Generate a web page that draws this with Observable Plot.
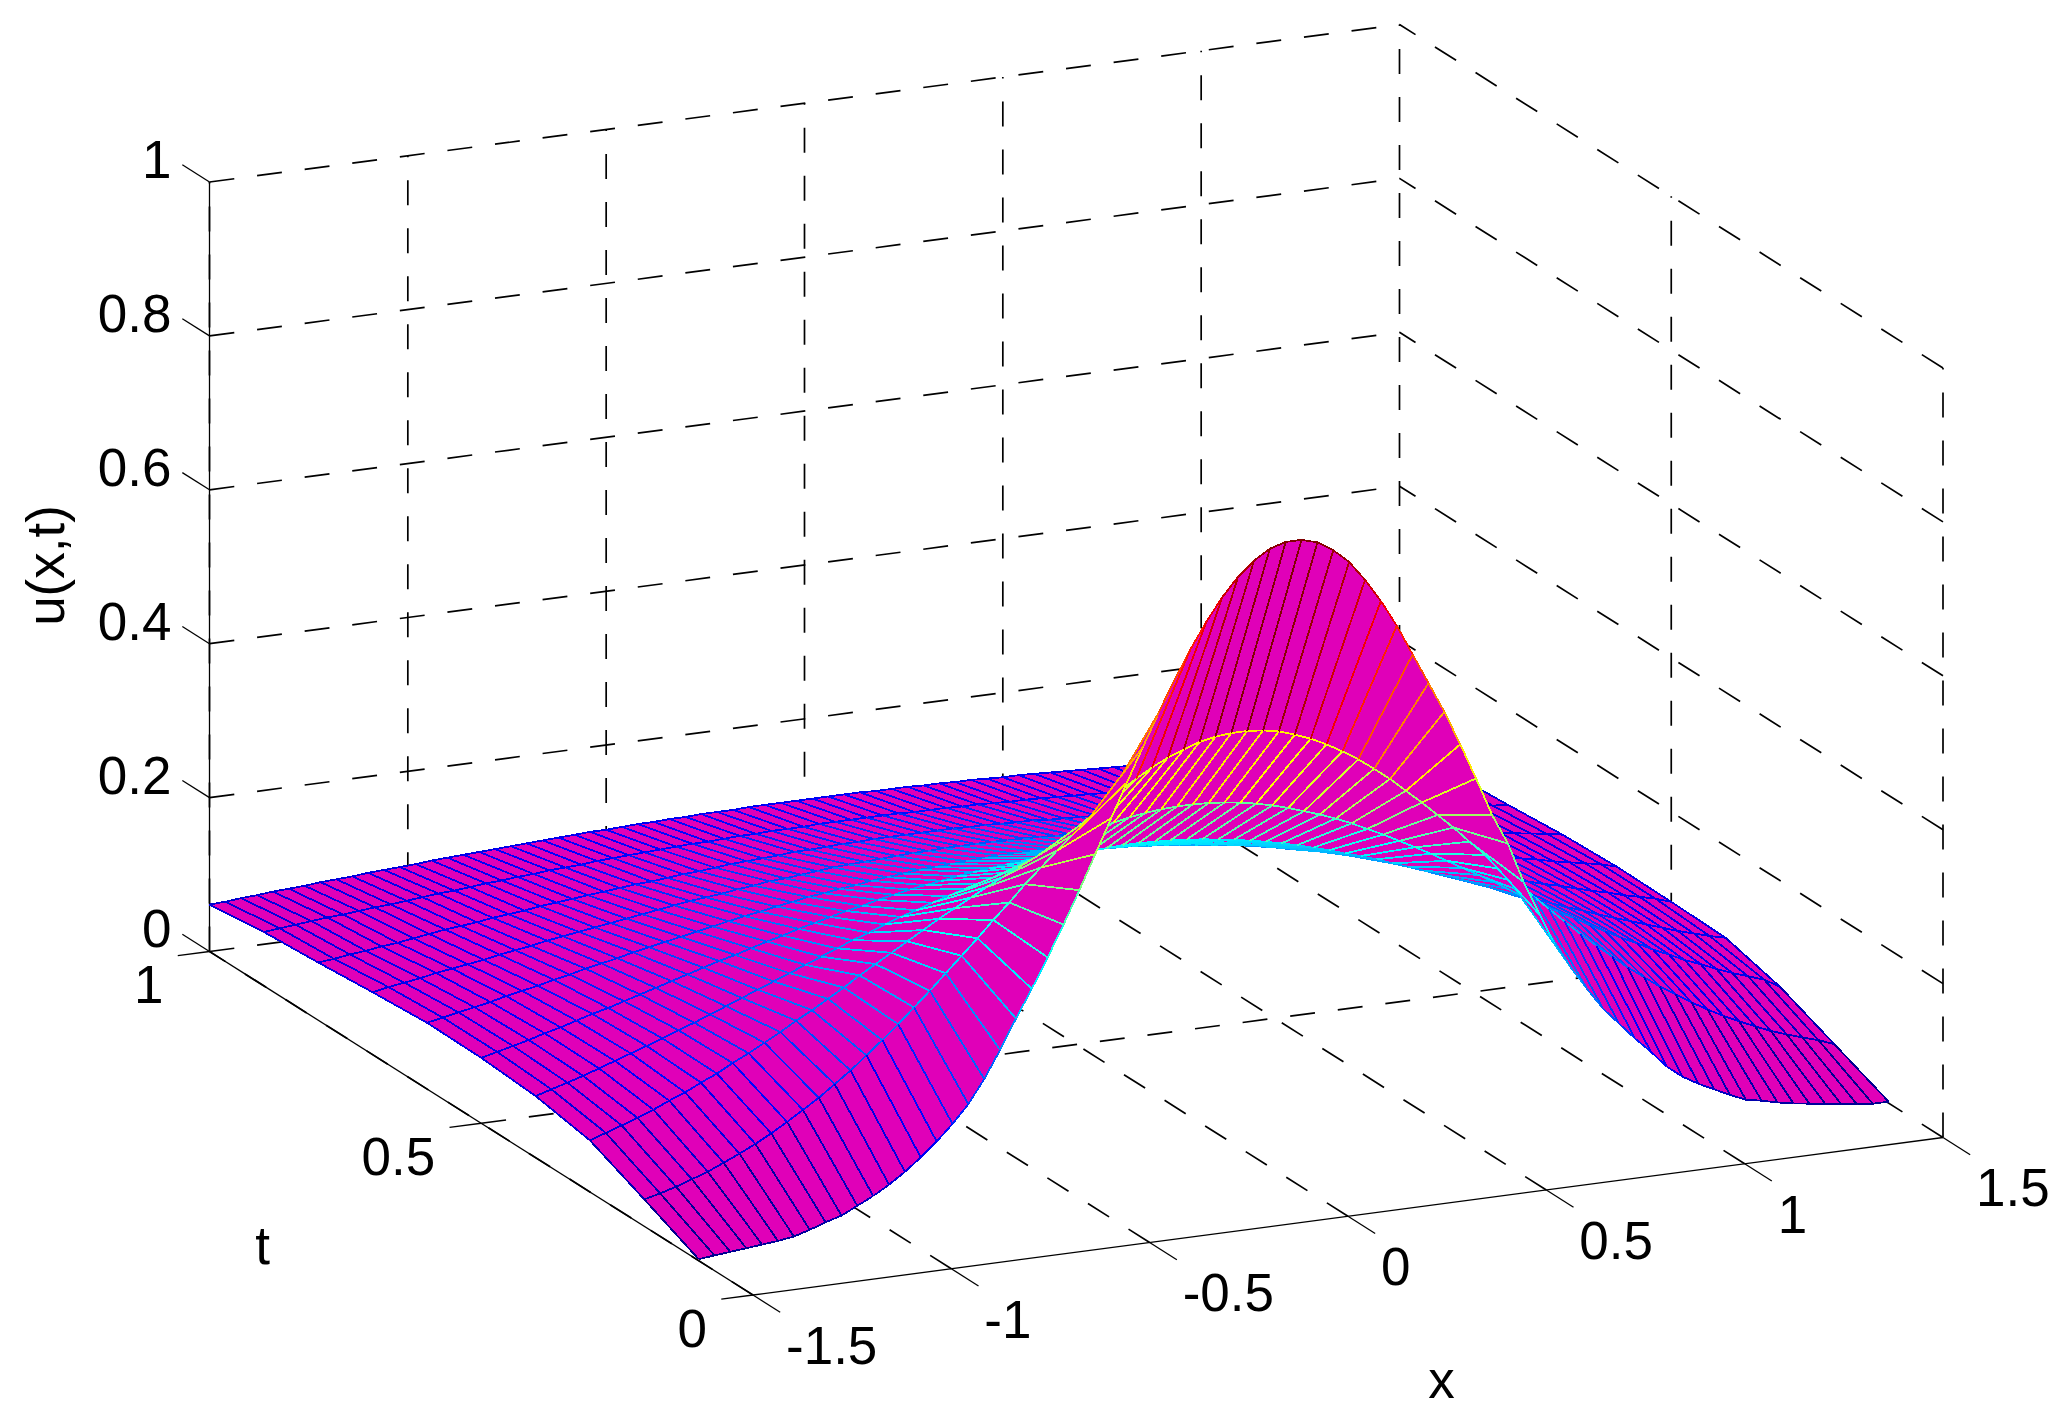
<!DOCTYPE html>
<html>
<head>
<meta charset="utf-8">
<script src="https://cdn.jsdelivr.net/npm/d3@7"></script>
<script src="https://cdn.jsdelivr.net/npm/@observablehq/plot@0.6"></script>
<style>html,body{margin:0;padding:0;background:#fff}svg{display:block}</style>
</head>
<body>
<div id="chart"></div>
<script>
const xGrid = [-1.50,-1.46,-1.42,-1.38,-1.34,-1.30,-1.26,-1.22,-1.18,-1.14,-1.10,-1.06,-1.02,-0.98,-0.94,-0.90,-0.86,-0.82,-0.78,-0.74,-0.70,-0.66,-0.62,-0.58,-0.54,-0.50,-0.46,-0.42,-0.38,-0.34,-0.30,-0.26,-0.22,-0.18,-0.14,-0.10,-0.06,-0.02,0.02,0.06,0.10,0.14,0.18,0.22,0.26,0.30,0.34,0.38,0.42,0.46,0.50,0.54,0.58,0.62,0.66,0.70,0.74,0.78,0.82,0.86,0.90,0.94,0.98,1.02,1.06,1.10,1.14,1.18,1.22,1.26,1.30,1.34,1.38,1.42,1.46,1.50];
const tGrid = [0.1,0.2,0.3,0.4,0.5,0.6,0.7,0.8,0.9,1.0];
const u01 = [.002,.004,.006,.008,.010,.012,.015,.021,.028,.034,.044,.054,.066,.080,.096,.114,.134,.157,.187,.222,.260,.296,.334,.374,.416,.460,.504,.548,.591,.633,.673,.710,.743,.772,.796,.814,.827,.833,.833,.827,.814,.796,.770,.740,.705,.665,.625,.585,.540,.493,.443,.403,.350,.305,.262,.230,.200,.172,.150,.128,.108,.086,.070,.058,.048,.038,.029,.025,.020,.016,.013,.010,.007,.004,.002,.002];
const u02 = [.035,.040,.046,.053,.060,.069,.078,.088,.099,.111,.124,.137,.152,.167,.184,.201,.219,.238,.257,.277,.297,.317,.338,.358,.379,.398,.417,.435,.453,.469,.484,.497,.509,.519,.527,.534,.538,.540,.540,.538,.534,.527,.519,.509,.497,.484,.469,.453,.435,.417,.398,.379,.358,.338,.317,.297,.277,.257,.238,.219,.201,.184,.167,.152,.137,.124,.111,.099,.088,.078,.069,.060,.053,.046,.040,.032];
const u03 = [.067,.074,.081,.088,.096,.105,.113,.123,.132,.143,.153,.164,.175,.187,.198,.210,.222,.235,.247,.259,.271,.283,.295,.306,.317,.328,.338,.348,.357,.365,.372,.379,.385,.390,.394,.397,.399,.400,.400,.399,.397,.394,.390,.385,.379,.372,.365,.357,.348,.338,.328,.317,.306,.295,.283,.271,.259,.247,.235,.222,.210,.198,.187,.175,.164,.153,.143,.132,.123,.113,.105,.096,.088,.081,.074,.062];
const u04 = [.080,.086,.092,.098,.105,.112,.119,.126,.133,.141,.148,.156,.164,.172,.180,.188,.196,.204,.212,.220,.228,.235,.243,.250,.256,.263,.269,.275,.280,.285,.289,.293,.296,.299,.301,.303,.304,.305,.305,.304,.303,.301,.299,.296,.293,.289,.285,.280,.275,.269,.263,.256,.250,.243,.235,.228,.220,.212,.204,.196,.188,.180,.172,.164,.156,.148,.141,.133,.126,.119,.112,.105,.098,.092,.086,.081];
const u05 = [.085,.090,.095,.100,.106,.111,.117,.123,.128,.134,.140,.146,.152,.158,.164,.170,.175,.181,.187,.192,.198,.203,.208,.213,.217,.222,.226,.230,.233,.236,.239,.242,.244,.246,.248,.249,.250,.250,.250,.250,.249,.248,.246,.244,.242,.239,.236,.233,.230,.226,.222,.217,.213,.208,.203,.198,.192,.187,.181,.175,.170,.164,.158,.152,.146,.140,.134,.128,.123,.117,.111,.106,.100,.095,.090,.083];
const u06 = [.086,.090,.094,.098,.102,.107,.111,.115,.120,.124,.129,.133,.137,.142,.146,.150,.154,.158,.162,.166,.170,.173,.177,.180,.184,.186,.189,.191,.194,.196,.198,.200,.201,.202,.203,.204,.205,.205,.205,.205,.204,.203,.202,.201,.200,.198,.196,.194,.191,.189,.186,.184,.180,.177,.173,.170,.166,.162,.158,.154,.150,.146,.142,.137,.133,.129,.124,.120,.115,.111,.107,.102,.098,.094,.090,.084];
const u07 = [.081,.085,.088,.091,.095,.098,.101,.104,.108,.111,.114,.118,.121,.124,.127,.130,.133,.136,.139,.142,.145,.147,.149,.152,.154,.157,.158,.160,.162,.164,.165,.166,.167,.168,.169,.169,.170,.170,.170,.170,.169,.169,.168,.167,.166,.165,.164,.162,.160,.158,.157,.154,.152,.149,.147,.145,.142,.139,.136,.133,.130,.127,.124,.121,.118,.114,.111,.108,.104,.101,.098,.095,.091,.088,.085,.081];
const u08 = [.075,.077,.080,.082,.085,.087,.090,.093,.096,.098,.100,.103,.105,.107,.110,.112,.114,.116,.118,.120,.122,.123,.125,.127,.128,.130,.132,.133,.134,.135,.137,.137,.138,.139,.139,.140,.140,.140,.140,.140,.140,.139,.139,.138,.137,.137,.135,.134,.133,.132,.130,.128,.127,.125,.123,.122,.120,.118,.116,.114,.112,.110,.107,.105,.103,.100,.098,.096,.093,.090,.087,.085,.082,.080,.077,.075];
const u09 = [.070,.072,.074,.076,.078,.079,.081,.083,.084,.086,.088,.090,.091,.093,.095,.096,.098,.099,.101,.102,.103,.105,.106,.107,.108,.109,.110,.111,.111,.112,.113,.113,.114,.114,.114,.115,.115,.115,.115,.115,.115,.114,.114,.114,.113,.113,.112,.111,.111,.110,.109,.108,.107,.106,.105,.103,.102,.101,.099,.098,.096,.095,.093,.091,.090,.088,.086,.084,.083,.081,.079,.078,.076,.074,.072,.070];
const u10 = [.061,.062,.064,.065,.067,.068,.069,.071,.072,.073,.075,.076,.077,.078,.080,.081,.082,.083,.084,.085,.086,.087,.088,.089,.090,.090,.091,.092,.092,.093,.093,.094,.094,.094,.095,.095,.095,.095,.095,.095,.095,.095,.094,.094,.094,.093,.093,.092,.092,.091,.090,.090,.089,.088,.087,.086,.085,.084,.083,.082,.081,.080,.078,.077,.076,.075,.073,.072,.071,.069,.068,.067,.065,.064,.062,.061];
const uRows = [u01,u02,u03,u04,u05,u06,u07,u08,u09,u10];

const xTicks = [-1.5,-1,-0.5,0,0.5,1,1.5];
const xTickLabels = ["-1.5","-1","-0.5","0","0.5","1","1.5"];
const tTicks = [0,0.5,1];
const tTickLabels = ["0","0.5","1"];
const uTicks = [0,0.2,0.4,0.6,0.8,1];
const uTickLabels = ["0","0.2","0.4","0.6","0.8","1"];

// MATLAB-style orthographic view of the box
const px = (x,t,u) => 752.5 + (x+1.5)/3*1190 - t*543.5;
const py = (x,t,u) => 1294.5 - (x+1.5)/3*157.5 - t*343.5 - u*769.5;
const seg = (a,b,extra={}) => ({x1:px(...a),y1:py(...a),x2:px(...b),y2:py(...b),...extra});
const at = (x,t,u,label) => ({x:px(x,t,u),y:py(x,t,u),label});

const grid = [];
for (const x of xTicks) { grid.push(seg([x,0,0],[x,1,0])); grid.push(seg([x,1,0],[x,1,1])); }
for (const t of [0.5,1]) grid.push(seg([-1.5,t,0],[1.5,t,0]));
for (const t of [0,0.5]) grid.push(seg([1.5,t,0],[1.5,t,1]));
for (const z of uTicks.slice(1)) { grid.push(seg([-1.5,1,z],[1.5,1,z])); grid.push(seg([1.5,0,z],[1.5,1,z])); }

const solid = [seg([-1.5,0,0],[1.5,0,0]), seg([-1.5,0,0],[-1.5,1,0]), seg([-1.5,1,0],[-1.5,1,1])];
for (const x of xTicks) solid.push(seg([x,0,0],[x,-0.05,0]));
for (const t of tTicks) solid.push(seg([-1.5,t,0],[-1.58,t,0]));
for (const z of uTicks) solid.push(seg([-1.5,1,z],[-1.5,1.05,z]));

const fontFamily = "Liberation Sans, Arial, sans-serif";
const fontSize = 53;
const marks = [
  Plot.link(grid,{x1:"x1",y1:"y1",x2:"x2",y2:"y2",stroke:"black",strokeWidth:1.7,strokeDasharray:"25,23"}),
  Plot.link(solid,{x1:"x1",y1:"y1",x2:"x2",y2:"y2",stroke:"black",strokeWidth:1.3})
];

// far to near, so nearer cells cover farther ones
for (let j = tGrid.length-2; j >= 0; j--) {
  for (let i = xGrid.length-2; i >= 0; i--) {
    const c = (a,b) => [xGrid[a],tGrid[b],uRows[b][a]];
    const corners = [c(i,j),c(i+1,j),c(i+1,j+1),c(i,j+1)];
    marks.push(Plot.line(corners.map(p=>({x:px(...p),y:py(...p)})),{x:"x",y:"y",fill:"#e000b8",stroke:"#e000b8",strokeWidth:0.6,curve:"linear-closed",shapeRendering:"crispEdges"}));
    marks.push(Plot.link([
      seg(c(i,j),c(i+1,j),{u:uRows[j][i]}),
      seg(c(i,j+1),c(i+1,j+1),{u:uRows[j+1][i]}),
      seg(c(i,j),c(i,j+1),{u:uRows[j][i]}),
      seg(c(i+1,j),c(i+1,j+1),{u:uRows[j][i+1]})
    ],{x1:"x1",y1:"y1",x2:"x2",y2:"y2",stroke:"u",strokeWidth:1.8,shapeRendering:"crispEdges"}));
  }
}

const txt = {x:"x",y:"y",text:"label",fill:"black",fontSize,fontFamily,lineAnchor:"middle"};
marks.push(Plot.text(uTicks.map((z,k)=>at(-1.5,1,z,uTickLabels[k])),{...txt,textAnchor:"end",dx:-38,dy:-21}));
marks.push(Plot.text(tTicks.map((t,k)=>at(-1.5,t,0,tTickLabels[k])),{...txt,textAnchor:"end",dx:-46,dy:35}));
marks.push(Plot.text(xTicks.map((x,k)=>at(x,0,0,xTickLabels[k])),{...txt,textAnchor:"start",dx:33,dy:52}));
marks.push(Plot.text([{x:1441,y:1381,label:"x"}],txt));
marks.push(Plot.text([{x:262,y:1247,label:"t"}],txt));
marks.push(Plot.text([{x:47,y:565,label:"u(x,t)"}],{...txt,rotate:-90}));

const chart = Plot.plot({
  width:2062,height:1415,margin:0,
  style:{background:"#fff"},
  x:{domain:[0,2062],range:[0,2062],axis:null},
  y:{domain:[0,1415],range:[0,1415],axis:null},
  color:{type:"linear",interpolate:"rgb",domain:[.002,.106,.314,.522,.73,.834],range:["#000090","#0000ff","#00ffff","#ffff00","#ff0000","#800000"]},
  marks
});
document.getElementById("chart").appendChild(chart);
</script>
</body>
</html>
